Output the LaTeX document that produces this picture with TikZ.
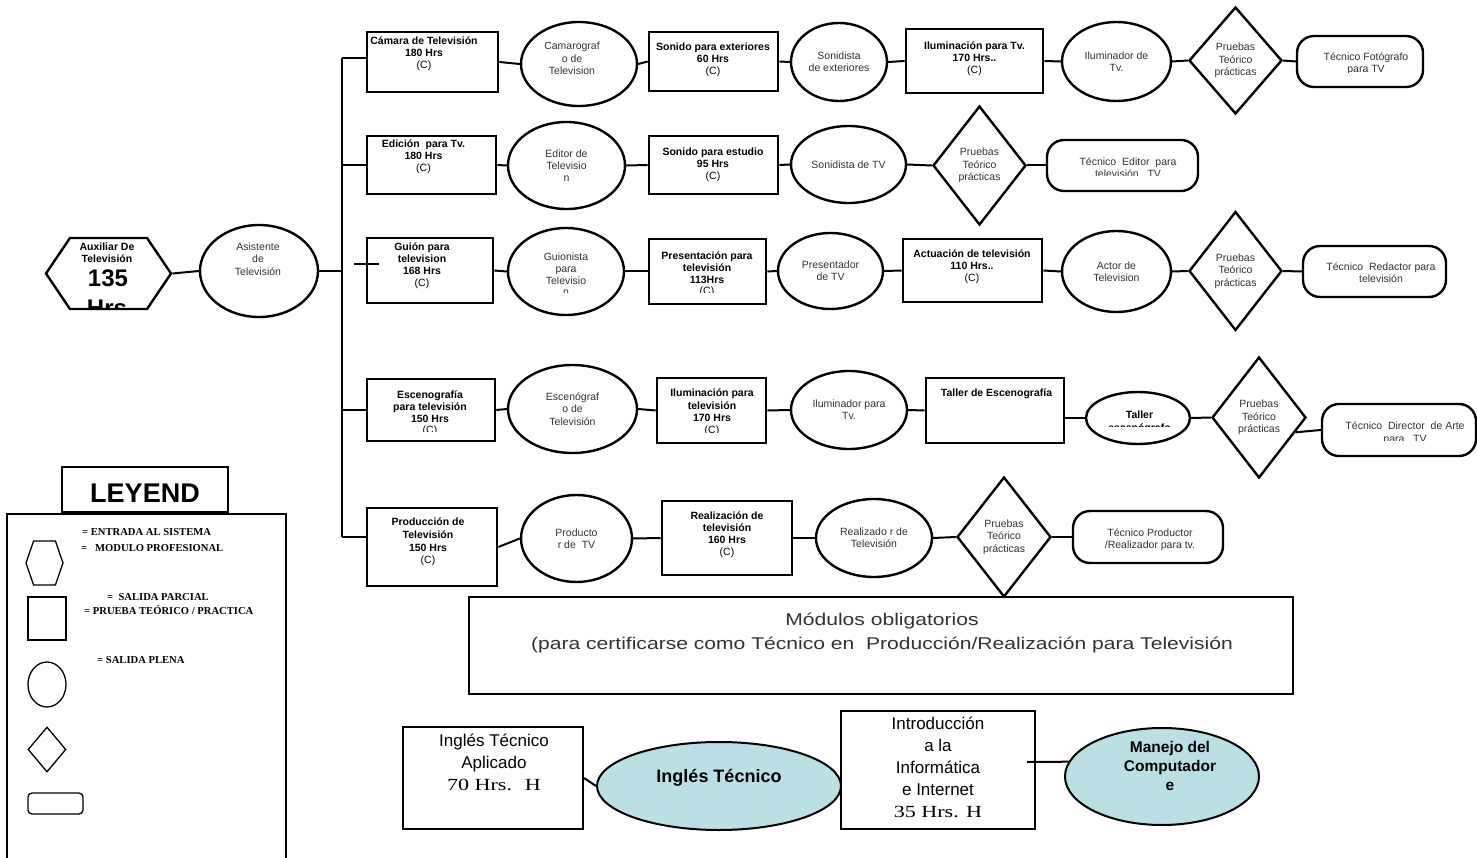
\documentclass[tikz,border=0pt]{standalone}
\usepackage{fontspec}
\setmainfont{Liberation Sans}
\newfontfamily\tnr{Liberation Serif}
\usetikzlibrary{shapes.geometric,shapes.symbols}
\definecolor{txtgray}{RGB}{50,50,50}
\definecolor{ellblue}{RGB}{187,224,227}
\tikzset{
  dims/.style 2 args={minimum width=#1pt, minimum height=#2pt},
  box/.style={draw, rectangle, line width=2.6pt, inner sep=0pt},
  ell/.style={draw, ellipse, line width=2.4pt, inner sep=0pt, align=center, text=txtgray, font=\fontsize{10.5}{12.3}\selectfont},
  prueba/.style={draw, diamond, line width=2.4pt, inner sep=0pt, dims={93}{119}, align=center, text=txtgray, font=\fontsize{10.5}{12.3}\selectfont},
  salida/.style={draw, rectangle, rounded corners=17pt, line width=2.4pt, inner sep=0pt},
  hexa/.style={draw, signal, signal to=west and east, line width=2.4pt, inner sep=0pt},
  boxtxt/.style={align=center, inner sep=0pt, font=\bfseries\fontsize{10.5}{12}\selectfont},
  elltxt/.style={align=center, inner sep=0pt, text=txtgray, font=\fontsize{10.5}{12.3}\selectfont},
  conn/.style={line width=2pt},
  leg/.style={draw, line width=1.3pt, inner sep=0pt},
  legtxt/.style={anchor=west, inner sep=0pt, font=\tnr\bfseries\fontsize{10.6}{12}\selectfont},
}
\begin{document}
\begin{tikzpicture}[x=1pt,y=-1pt]
\useasboundingbox (0,0) rectangle (1477,858);

% entrada
\node[hexa, signal pointer angle=112, dims={125}{71}] (auxiliar) at (108.5,273.5) {};
\node[boxtxt] (auxT) at (107,253) {Auxiliar De\\Televisión};
\node[anchor=base, inner sep=0pt, font=\bfseries\fontsize{24}{26}\selectfont] (auxN) at (108,287) {135};
\begin{scope}
\clip (60,290) rectangle (160,307.5);
\node[anchor=base, inner sep=0pt, font=\bfseries\fontsize{24}{26}\selectfont] (auxH) at (107,317) {Hrs};
\end{scope}
\node[ell, dims={118}{92}] (asistente) at (259,271) {};
\node[elltxt] (asistenteT) at (258,259) {Asistente\\de\\Televisión};

% tronco
\coordinate (trunktop) at (342,58);
\coordinate (trunkbot) at (342,537);
\coordinate (stubL) at (354,264);
\coordinate (stubR) at (379,264);

% fila 1
\node[box, dims={131}{60}] (camara) at (432.5,62) {};
\node[boxtxt] (camaraT) at (424,54) {Cámara de Televisión\\180 Hrs\\{\mdseries (C)}};
\node[ell, dims={116}{84}] (camarografo) at (579,64) {};
\node[elltxt] (camarografoT) at (572,58.5) {Camarograf\\o de\\Television};
\node[box, dims={129}{59}] (sonext) at (713.5,61.5) {};
\node[boxtxt] (sonextT) at (713,59.5) {Sonido para exteriores\\60 Hrs\\{\mdseries (C)}};
\node[ell, dims={96}{78}] (sonidista) at (839,62) {Sonidista\\de exteriores};
\node[box, dims={137}{64}] (ilumtv) at (974.5,61) {};
\node[boxtxt] (ilumtvT) at (974.5,58.5) {Iluminación para Tv.\\170 Hrs..\\{\mdseries (C)}};
\node[ell, dims={109}{79}] (iluminador) at (1116.5,61.5) {Iluminador de\\Tv.};
\node[prueba, dims={93}{107}] (prueba1) at (1235.5,60.5) {Pruebas\\Teórico\\prácticas};
\node[salida, dims={126}{51}] (tecfoto) at (1360,61.5) {};
\begin{scope}
\clip (1300,39) rectangle (1420,72.5);
\node[elltxt, font=\fontsize{10.5}{12}\selectfont] (tecfotoT) at (1366,64) {Técnico Fotógrafo\\para TV};
\end{scope}

% fila 2
\node[box, dims={129}{58}] (edicion) at (431.5,165) {};
\node[boxtxt] (edicionT) at (423.5,157) {Edición~ para Tv.\\180 Hrs\\{\mdseries (C)}};
\node[ell, dims={117}{87}] (editor) at (566.5,165.5) {Editor de\\Televisio\\n};
\node[box, dims={129}{58}] (sonest) at (713.5,165) {};
\node[boxtxt] (sonestT) at (713,164.5) {Sonido para estudio\\95 Hrs\\{\mdseries (C)}};
\node[ell, dims={115}{77}] (sonidistatv) at (848.5,164.5) {Sonidista de TV};
\node[prueba] (prueba2) at (979.5,165.5) {Pruebas\\Teórico\\prácticas};
\node[salida, dims={151}{51}] (teceditor) at (1122.5,165.5) {};
\begin{scope}
\clip (1050,143) rectangle (1195,175.5);
\node[elltxt, font=\fontsize{10.5}{12}\selectfont] (teceditorT) at (1128,168) {Técnico~ Editor~ para\\televisión~~ TV};
\end{scope}

% fila 3
\node[box, dims={126}{65}] (guion) at (430,270.5) {};
\node[boxtxt] (guionT) at (422,265.5) {Guión para\\television\\168 Hrs\\{\mdseries (C)}};
\node[ell, dims={116}{87}] (guionista) at (566,271.5) {};
\begin{scope}
\clip (510,230) rectangle (622,292.5);
\node[elltxt, font=\fontsize{10.5}{11.7}\selectfont] (guionistaT) at (566,274.5) {Guionista\\para\\Televisio\\n};
\end{scope}
\node[box, dims={117}{65}] (present) at (707.5,271.5) {};
\begin{scope}
\clip (652,242) rectangle (763,292.5);
\node[boxtxt, font=\bfseries\fontsize{10.5}{11.7}\selectfont] (presentT) at (707,274.5) {Presentación para\\televisión\\113Hrs\\{\mdseries (C)}};
\end{scope}
\node[ell, dims={105}{76}] (presentador) at (830.5,271) {Presentador\\de TV};
\node[box, dims={139}{63}] (actuacion) at (972.5,270.5) {};
\node[boxtxt] (actuacionT) at (972,267) {Actuación de televisión\\110 Hrs..\\{\mdseries (C)}};
\node[ell, dims={109}{81}] (actor) at (1116.5,271.5) {Actor de\\Television};
\node[prueba] (prueba3) at (1235.5,271) {Pruebas\\Teórico\\prácticas};
\node[salida, dims={143}{51}] (tecredactor) at (1374.5,271.5) {};
\node[elltxt, font=\fontsize{10.5}{12}\selectfont] (tecredactorT) at (1381,273) {Técnico~ Redactor para\\televisión};

% fila 4
\node[box, dims={128}{62}] (esceno) at (431,410) {};
\begin{scope}
\clip (370,382) rectangle (492,431);
\node[boxtxt, font=\bfseries\fontsize{10.5}{11.7}\selectfont] (escenoT) at (430,413.5) {Escenografía\\para televisión\\150 Hrs\\{\mdseries (C)}};
\end{scope}
\node[ell, dims={129}{88}] (escenografo) at (572.5,409) {Escenógraf\\o de\\Televisión};
\node[box, dims={109}{65}] (ilumtel) at (711.5,410.5) {};
\begin{scope}
\clip (660,381) rectangle (763,432);
\node[boxtxt, font=\bfseries\fontsize{10.5}{12.3}\selectfont] (ilumtelT) at (712,412.5) {Iluminación para\\televisión\\170 Hrs\\{\mdseries (C)}};
\end{scope}
\node[ell, dims={116}{78}] (iluminadorpara) at (849,410) {Iluminador para\\Tv.};
\node[box, dims={138}{65}] (taller) at (995,410.5) {};
\node[boxtxt] (tallerT) at (996.5,394) {Taller de Escenografía};
\node[ell, dims={104}{52}] (tallere) at (1138,418) {};
\begin{scope}
\clip (1088,395) rectangle (1188,426.5);
\node[boxtxt, font=\bfseries\fontsize{10.5}{13}\selectfont] (tallereT) at (1139.5,422.5) {Taller\\escenógrafo};
\end{scope}
\node[prueba, dims={94}{121}] (prueba4) at (1259,417.5) {Pruebas\\Teórico\\prácticas};
\node[salida, dims={154}{52}] (tecdirector) at (1399,430) {};
\begin{scope}
\clip (1325,407) rectangle (1474,440);
\node[elltxt, font=\fontsize{10.5}{12.5}\selectfont] (tecdirectorT) at (1405,433) {Técnico~ Director~ de Arte\\para~~ TV};
\end{scope}

% fila 5
\node[box, dims={130}{78}] (produccion) at (432,547) {};
\node[boxtxt, font=\bfseries\fontsize{10.5}{12.6}\selectfont] (produccionT) at (428,542) {Producción de\\Televisión\\150 Hrs\\{\mdseries (C)}};
\node[ell, dims={111}{87}] (productor) at (576.5,538.5) {Producto\\r de~ TV};
\node[box, dims={130}{74}] (realiz) at (727,538) {};
\node[boxtxt] (realizT) at (727,535) {Realización de\\televisión\\160 Hrs\\{\mdseries (C)}};
\node[ell, dims={116}{78}] (realizador) at (874,538) {Realizado r de\\Televisión};
\node[prueba, dims={94}{120}] (prueba5) at (1004,537) {Pruebas\\Teórico\\prácticas};
\node[salida, dims={150}{52}] (tecproductor) at (1148,537) {};
\begin{scope}
\clip (1076,514) rectangle (1220,550);
\node[elltxt, font=\fontsize{10.5}{12.5}\selectfont] (tecproductorT) at (1150,539.5) {Técnico Productor\\/Realizador para tv.};
\end{scope}

% conectores
\draw[conn] (auxiliar.east) -- (asistente.west);
\draw[conn] (asistente.east) -- (trunktop |- asistente.east);
\draw[conn] (trunktop) -- (trunkbot);
\draw[conn] (trunktop) -- (trunktop -| camara.west);
\draw[conn] (edicion.west) -- (trunktop |- edicion.west);
\draw[conn] (stubL) -- (stubR);
\draw[conn] (esceno.west) -- (trunktop |- esceno.west);
\draw[conn] (trunkbot) -- (trunkbot -| produccion.west);
\foreach \a/\b in {camara/camarografo, camarografo/sonext, sonext/sonidista, sonidista/ilumtv,
  ilumtv/iluminador, iluminador/prueba1, prueba1/tecfoto,
  edicion/editor, editor/sonest, sonest/sonidistatv, sonidistatv/prueba2, prueba2/teceditor,
  guion/guionista, guionista/present, present/presentador, presentador/actuacion,
  actuacion/actor, actor/prueba3, prueba3/tecredactor,
  esceno/escenografo, escenografo/ilumtel, ilumtel/iluminadorpara, iluminadorpara/taller,
  tallere/prueba4,
  produccion/productor, productor/realiz, realiz/realizador, realizador/prueba5, prueba5/tecproductor}
  \draw[conn] (\a.east) -- (\b.west);
\draw[conn] (tallere.west) -- (tallere.west -| taller.east);
\draw[conn] (prueba4.-22) -- (tecdirector.west);

% modulos obligatorios
\node[box, line width=2pt, dims={824}{97}] (modulos) at (881,645.5) {};
\node[align=center, inner sep=0pt, text=txtgray, font=\fontsize{17}{24}\selectfont] (modulosT) at (882,633)
  {\scalebox{1.24}[1]{Módulos obligatorios}\\\scalebox{1.24}[1]{(para certificarse como Técnico en~ Producción/Realización para Televisión}};

\node[box, line width=2pt, dims={180}{102}] (inglesap) at (493,778) {};
\node[align=center, inner sep=0pt, font=\fontsize{17}{22}\selectfont] (inglesapT) at (494,762) {Inglés Técnico\\Aplicado\\{\tnr\scalebox{1.3}[1]{70 Hrs.~ H}}};
\node[ell, line width=2pt, fill=ellblue, dims={244}{88}] (ingles) at (719,786) {};
\node[inner sep=0pt, font=\bfseries\fontsize{18}{20}\selectfont] (inglesT) at (719,778) {Inglés Técnico};
\node[box, line width=2pt, dims={194}{118}] (intro) at (938,770) {};
\node[align=center, inner sep=0pt, font=\fontsize{17}{22}\selectfont] (introT) at (938,767.5) {Introducción\\a la\\Informática\\e Internet\\{\tnr\scalebox{1.3}[1]{35 Hrs. H}}};
\node[ell, line width=2pt, fill=ellblue, dims={194}{97}] (manejo) at (1162,776.5) {};
\node[align=center, inner sep=0pt, font=\bfseries\fontsize{15.5}{19}\selectfont] (manejoT) at (1170,766) {Manejo del\\Computador\\e};
\coordinate (introstub) at (1027,762);
\draw[conn] (inglesap.east) -- (ingles.west);
\draw[conn] (introstub) -- (manejo.171);

% leyenda
\node[leg, line width=1.8pt, dims={166}{45}, text height=26pt, font=\bfseries\fontsize{27}{30}\selectfont] (leyend) at (145,489.5) {LEYEND};
\draw[line width=2pt] (7,514) rectangle (286,866);
\node[leg, signal, signal to=west and east, signal pointer angle=142, dims={37}{44}] (leghex) at (44.5,563) {};
\node[leg, dims={38}{43}] (legsq) at (47,618.5) {};
\node[leg, ellipse, dims={38}{45}] (legell) at (47,684.5) {};
\node[leg, diamond, dims={38}{45}] (legdia) at (47,749.5) {};
\node[leg, rounded corners=4pt, dims={55}{21}] (legrnd) at (55.5,803.5) {};
\node[legtxt] (legT1) at (82,532) {= ENTRADA AL SISTEMA};
\node[legtxt] (legT2) at (81,548) {=~~ MODULO PROFESIONAL};
\node[legtxt] (legT3) at (107,597) {=~ SALIDA PARCIAL};
\node[legtxt] (legT4) at (84,610) {= PRUEBA TEÓRICO / PRACTICA};
\node[legtxt] (legT5) at (97,660) {= SALIDA PLENA};
\end{tikzpicture}
\end{document}
